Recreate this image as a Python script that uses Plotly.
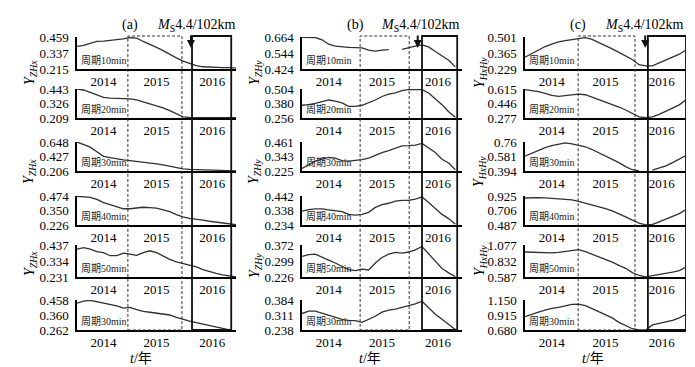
import plotly.graph_objects as go

# ---------------- data ----------------
T = [2014.0, 2014.125, 2014.25, 2014.375, 2014.5, 2014.625, 2014.75, 2014.875,
     2015.0, 2015.125, 2015.25, 2015.375, 2015.5, 2015.625, 2015.75, 2015.875,
     2016.0, 2016.125, 2016.25, 2016.375, 2016.5, 2016.625, 2016.75, 2016.875, 2017.0]

# Panel (a) Y_ZHx
A1 = [0.388, 0.395, 0.41, 0.425, 0.427, 0.432, 0.44, 0.445, 0.455, 0.45, 0.425, 0.405, 0.38,
      0.355, 0.325, 0.30, 0.275, 0.255, 0.24, 0.232, 0.228, 0.225, 0.225, 0.226, 0.222]
A2 = [0.443, 0.435, 0.415, 0.395, 0.375, 0.37, 0.368, 0.365, 0.363, 0.355, 0.34, 0.325, 0.305,
      0.29, 0.268, 0.24, 0.218, 0.213, 0.212, 0.211, 0.212, 0.211, 0.212, 0.212, 0.211]
A3 = [0.648, 0.61, 0.57, 0.5, 0.43, 0.41, 0.39, 0.375, 0.365, 0.355, 0.34, 0.33, 0.315,
      0.30, 0.28, 0.255, 0.238, 0.232, 0.228, 0.22, 0.215, 0.212, 0.21, 0.208, 0.207]
A4 = [0.472, 0.47, 0.462, 0.445, 0.418, 0.40, 0.38, 0.365, 0.365, 0.373, 0.378, 0.375, 0.37,
      0.355, 0.34, 0.315, 0.295, 0.283, 0.278, 0.268, 0.258, 0.25, 0.242, 0.235, 0.228]
A5 = [0.41, 0.42, 0.41, 0.395, 0.388, 0.368, 0.368, 0.385, 0.378, 0.37, 0.388, 0.40, 0.388,
      0.365, 0.345, 0.328, 0.318, 0.308, 0.296, 0.278, 0.265, 0.255, 0.245, 0.236, 0.231]
A6 = [0.438, 0.45, 0.456, 0.448, 0.44, 0.43, 0.42, 0.405, 0.41, 0.395, 0.383, 0.378, 0.373,
      0.368, 0.36, 0.345, 0.33, 0.32, 0.31, 0.30, 0.29, 0.28, 0.27, 0.263, None]

# Panel (b) Y_ZHy
B1 = [0.662, 0.662, 0.66, 0.643, 0.61, 0.595, 0.588, 0.586, 0.585, 0.582, 0.565, 0.558, 0.565,
      0.57, None, 0.572, 0.585, 0.595, 0.605, 0.59, 0.555, 0.52, 0.49, 0.44, None]
B2 = [0.365, 0.37, 0.382, 0.395, 0.41, 0.40, 0.385, 0.355, 0.355, 0.365, 0.385, 0.41, 0.44,
      0.46, 0.47, 0.49, 0.50, 0.50, 0.498, 0.47, 0.42, 0.37, 0.31, 0.262, None]
B3 = [0.245, 0.275, 0.305, 0.322, 0.335, 0.33, 0.31, 0.305, 0.31, 0.318, 0.33, 0.355, 0.375,
      0.39, 0.41, 0.43, 0.432, 0.436, 0.45, 0.41, 0.375, 0.32, 0.29, 0.235, None]
B4 = [0.333, 0.345, 0.35, 0.35, 0.343, 0.338, 0.33, 0.31, 0.305, 0.31, 0.325, 0.36, 0.38,
      0.39, 0.405, 0.41, 0.41, 0.42, 0.435, 0.395, 0.355, 0.31, 0.28, 0.24, None]
B5 = [0.32, 0.328, 0.33, 0.318, 0.303, 0.29, 0.275, 0.26, 0.255, 0.262, 0.258, 0.29, 0.315,
      0.33, 0.338, 0.335, 0.34, 0.35, 0.365, 0.33, 0.295, 0.265, 0.245, 0.228, None]
B6 = [0.318, 0.33, 0.33, 0.32, 0.313, 0.30, 0.29, 0.285, 0.284, 0.275, 0.29, 0.305, 0.325,
      0.335, 0.34, 0.348, 0.358, 0.365, 0.378, 0.345, 0.315, 0.29, 0.265, 0.24, None]

# Panel (c) Y_HxHy
C1 = [0.33, 0.36, 0.39, 0.42, 0.44, 0.46, 0.47, 0.48, 0.49, 0.495, 0.48, 0.455, 0.43,
      0.40, 0.37, 0.34, 0.31, 0.265, 0.255, 0.255, 0.28, 0.30, 0.33, 0.355, 0.39]
C2 = [0.607, 0.60, 0.585, 0.565, 0.54, 0.53, 0.54, 0.55, 0.555, 0.548, 0.52, 0.49, 0.465,
      0.44, 0.405, 0.37, 0.33, 0.29, 0.28, 0.29, 0.32, 0.355, 0.39, 0.43, 0.49]
C3 = [0.58, 0.62, 0.66, 0.69, 0.715, 0.735, 0.75, 0.735, 0.72, 0.70, 0.665, 0.625, 0.59,
      0.55, 0.50, 0.45, 0.41, 0.395, None, 0.405, 0.43, 0.46, 0.50, 0.54, 0.59]
C4 = [0.895, 0.90, 0.90, 0.898, 0.89, 0.88, 0.872, 0.865, 0.845, 0.82, 0.795, 0.77, 0.735,
      0.70, 0.66, 0.61, 0.56, 0.515, 0.49, 0.495, 0.535, 0.575, 0.615, 0.66, 0.72]
C5 = [0.97, 0.965, 0.96, 0.955, 0.955, 0.965, 0.975, 0.99, 1.005, 0.975, 0.935, 0.895, 0.86,
      0.815, 0.765, 0.72, 0.655, 0.61, 0.59, 0.605, 0.63, 0.645, 0.66, 0.685, 0.74]
C6 = [0.89, 0.93, 0.96, 0.99, 1.02, 1.035, 1.06, 1.08, 1.085, 1.06, 1.015, 0.97, 0.92,
      0.87, 0.80, 0.75, 0.70, 0.68, 0.68, 0.76, 0.785, 0.80, 0.83, 0.87, 0.925]

SERIES = [[A1, A2, A3, A4, A5, A6], [B1, B2, B3, B4, B5, B6], [C1, C2, C3, C4, C5, C6]]

YTICKS = [
    [["0.215", "0.337", "0.459"], ["0.209", "0.326", "0.443"], ["0.206", "0.427", "0.648"],
     ["0.226", "0.350", "0.474"], ["0.231", "0.334", "0.437"], ["0.262", "0.360", "0.458"]],
    [["0.424", "0.544", "0.664"], ["0.256", "0.380", "0.504"], ["0.225", "0.343", "0.461"],
     ["0.234", "0.338", "0.442"], ["0.226", "0.299", "0.372"], ["0.238", "0.311", "0.384"]],
    [["0.229", "0.365", "0.501"], ["0.277", "0.446", "0.615"], ["0.394", "0.581", "0.76"],
     ["0.487", "0.706", "0.925"], ["0.587", "0.832", "1.077"], ["0.680", "0.915", "1.150"]],
]

YEAR_POS = [2014.5, 2015.5, 2016.55]
YEAR_TEXT = ["2014", "2015", "2016"]
PERIODS = ["周期10min", "周期20min", "周期30min", "周期40min", "周期50min", "周期30min"]
PANEL_TAGS = ["(a)", "(b)", "(c)"]
YTITLES = ["<i>Y</i><sub><i>ZHx</i></sub>", "<i>Y</i><sub><i>ZHy</i></sub>",
           "<i>Y</i><sub><i>HxHy</i></sub>"]

# anomaly windows (years): dashed box, solid box, earthquake time
DASH_WIN = [[2014.96, 2015.98], [2015.09, 2016.01], [2014.99, 2016.05]]
SOLID_WIN = [[2016.17, 2016.91], [2016.25, 2016.91], [2016.29, 2017.0]]
QUAKE_T = [2016.15, 2016.17, 2016.24]
QUAKE_TEXT = "<i>M</i><sub>S</sub>4.4/102km"

# ---------------- layout geometry (pixels) ----------------
W, H = 695, 367
COL_PX = [(69, 228), (294, 454), (517, 678)]
ROW_PX = [(29, 61), (81, 110), (134, 163), (188, 217), (237, 269), (292, 322)]
YTITLE_X = [22, 247, 472]
YTITLE_Y = [[65, 164, 256], [65, 164, 258], [65, 164, 253]]
TAG_X = [122, 347, 570]
QTEXT_X = [188, 412, 636]
TLABEL_X = [133, 362, 585]

SERIF = "Liberation Serif, Times New Roman, serif"
CJK = "Liberation Serif, Noto Sans CJK SC, serif"
INK = "#222222"


def px_x(p):
    return p / W


def px_y(p):
    return 1 - p / H


fig = go.Figure()
layout = dict(width=W, height=H, margin=dict(l=0, r=0, t=0, b=0, pad=0, autoexpand=False),
              template="none",
              paper_bgcolor="white", plot_bgcolor="white", showlegend=False)
annotations = []
shapes = []

for c in range(3):
    for r in range(6):
        n = c * 6 + r + 1
        xa = "xaxis" if n == 1 else f"xaxis{n}"
        ya = "yaxis" if n == 1 else f"yaxis{n}"
        xs = "x" if n == 1 else f"x{n}"
        ys = "y" if n == 1 else f"y{n}"
        ticks = YTICKS[c][r]
        tv = [float(v) for v in ticks]
        layout[xa] = dict(domain=[px_x(COL_PX[c][0]), px_x(COL_PX[c][1])], anchor=ys,
                          range=[2014.0, 2017.0], showgrid=False, zeroline=False,
                          automargin=False,
                          showline=True, linecolor="black", linewidth=1.5,
                          tickmode="array", tickvals=YEAR_POS, ticktext=YEAR_TEXT,
                          ticks="", tickfont=dict(family=SERIF, size=13, color="black"))
        layout[ya] = dict(domain=[px_y(ROW_PX[r][1]), px_y(ROW_PX[r][0])], anchor=xs,
                          range=[tv[0], tv[2]], showgrid=False, zeroline=False,
                          automargin=False,
                          showline=True, linecolor="black", linewidth=1.5,
                          tickmode="array", tickvals=tv, ticktext=ticks, ticks="",
                          ticklabelstandoff=4,
                          tickfont=dict(family=SERIF, size=13, color="black"))
        fig.add_trace(go.Scatter(x=T, y=SERIES[c][r], xaxis=xs, yaxis=ys, mode="lines",
                                 line=dict(color="#303030", width=1.3),
                                 connectgaps=False, hoverinfo="skip"))
        annotations.append(dict(text=PERIODS[r], xref=f"{xs} domain", yref=f"{ys} domain",
                                x=0.01, y=0.02, xanchor="left", yanchor="bottom",
                                showarrow=False,
                                font=dict(family=CJK, size=10, color=INK)))

    top_x = "x" if c == 0 else f"x{c * 6 + 1}"
    y_top = px_y(28)
    y_bot = px_y(322)
    shapes.append(dict(type="rect", xref=top_x, yref="paper",
                       x0=DASH_WIN[c][0], x1=DASH_WIN[c][1], y0=y_bot, y1=y_top,
                       line=dict(color="#333333", width=1, dash="3px,2px")))
    shapes.append(dict(type="rect", xref=top_x, yref="paper",
                       x0=SOLID_WIN[c][0], x1=SOLID_WIN[c][1], y0=y_bot, y1=y_top,
                       line=dict(color="#111111", width=1.8)))
    # earthquake arrow
    annotations.append(dict(x=QUAKE_T[c], y=px_y(40), xref=top_x, yref="paper",
                            text="", showarrow=True, ax=0, ay=-14, arrowhead=2,
                            arrowsize=0.8, arrowwidth=2, arrowcolor="#111111"))
    annotations.append(dict(text=QUAKE_TEXT, x=px_x(QTEXT_X[c]), y=px_y(17),
                            xref="paper", yref="paper", showarrow=False,
                            xanchor="center", yanchor="middle",
                            font=dict(family=SERIF, size=14, color="black")))
    annotations.append(dict(text=PANEL_TAGS[c], x=px_x(TAG_X[c]), y=px_y(17),
                            xref="paper", yref="paper", showarrow=False,
                            xanchor="center", yanchor="middle",
                            font=dict(family=SERIF, size=14, color="black")))
    annotations.append(dict(text="<i>t</i>/年", x=px_x(TLABEL_X[c]), y=px_y(350),
                            xref="paper", yref="paper", showarrow=False,
                            xanchor="center", yanchor="middle",
                            font=dict(family=CJK, size=14, color="black")))
    for yy in YTITLE_Y[c]:
        annotations.append(dict(text=YTITLES[c], x=px_x(YTITLE_X[c]), y=px_y(yy),
                                xref="paper", yref="paper", showarrow=False,
                                xanchor="center", yanchor="middle",
                                textangle=-90,
                                font=dict(family=SERIF, size=14, color="black")))

layout["annotations"] = annotations
layout["shapes"] = shapes
fig.update_layout(**layout)
fig.write_html("out.html")
